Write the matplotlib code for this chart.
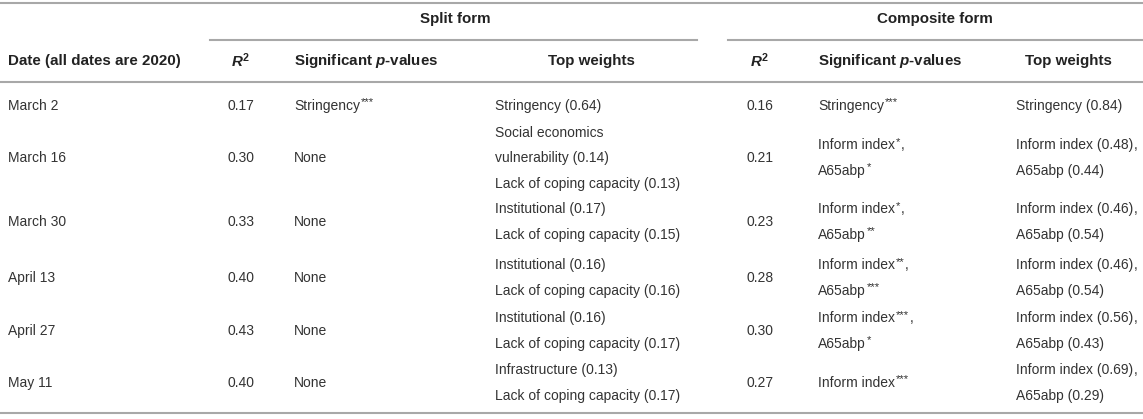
import matplotlib
matplotlib.use("Agg")
import matplotlib.pyplot as plt

plt.rcParams['font.family'] = ['Liberation Sans', 'DejaVu Sans']
plt.rcParams['mathtext.fontset'] = 'custom'
plt.rcParams['mathtext.rm'] = 'Liberation Sans:bold'
plt.rcParams['mathtext.it'] = 'Liberation Sans:bold:italic'
plt.rcParams['mathtext.sf'] = 'Liberation Sans'

# ---- data ----
group_headers = ["Split form", "Composite form"]
col_headers = ["Date (all dates are 2020)", "$R^{2}$", "Significant $p$-values", "Top weights",
               "$R^{2}$", "Significant $p$-values", "Top weights"]
dates = ["March 2", "March 16", "March 30", "April 13", "April 27", "May 11"]
r2_split = ["0.17", "0.30", "0.33", "0.40", "0.43", "0.40"]
pvals_split = ["Stringency***", "None", "None", "None", "None", "None"]
weights_split = [
    ["Stringency (0.64)"],
    ["Social economics", "vulnerability (0.14)", "Lack of coping capacity (0.13)"],
    ["Institutional (0.17)", "Lack of coping capacity (0.15)"],
    ["Institutional (0.16)", "Lack of coping capacity (0.16)"],
    ["Institutional (0.16)", "Lack of coping capacity (0.17)"],
    ["Infrastructure (0.13)", "Lack of coping capacity (0.17)"],
]
r2_comp = ["0.16", "0.21", "0.23", "0.28", "0.30", "0.27"]
pvals_comp = [
    ["Stringency***"],
    ["Inform index*,", "A65abp*"],
    ["Inform index*,", "A65abp**"],
    ["Inform index**,", "A65abp***"],
    ["Inform index***,", "A65abp*"],
    ["Inform index***"],
]
weights_comp = [
    ["Stringency (0.84)"],
    ["Inform index (0.48),", "A65abp (0.44)"],
    ["Inform index (0.46),", "A65abp (0.54)"],
    ["Inform index (0.46),", "A65abp (0.54)"],
    ["Inform index (0.56),", "A65abp (0.43)"],
    ["Inform index (0.69),", "A65abp (0.29)"],
]

# ---- layout ----
W, H = 1143, 419
fig = plt.figure(figsize=(W / 100, H / 100), dpi=100)
ax = fig.add_axes([0, 0, 1, 1])
ax.set_xlim(0, W)
ax.set_ylim(H, 0)
ax.axis('off')

TXT = '#333333'
HDR = '#222222'
LINE = '#a8a8a8'
FS = 10.0
HFS = 10.9
BASE = 5.0  # baseline offset below visual centre (px)

def put(x, yc, s, ha='left'):
    tail = ',' if s.endswith(',') else ''
    core = s[:-1] if tail else s
    stripped = core.rstrip('*')
    stars = len(core) - len(stripped)
    yb = yc + BASE
    t = ax.text(x, yb, stripped, ha=ha, va='baseline', fontsize=FS, color=TXT)
    last = t
    if stars:
        last = ax.annotate('*' * stars, xy=(1, yb), xycoords=(t, 'data'),
                           xytext=(0.8, 3.2), textcoords='offset points',
                           ha='left', va='baseline', fontsize=8.2, color=TXT)
    if tail:
        ax.annotate(tail, xy=(1, yb), xycoords=(last, 'data'),
                    xytext=(0.2, 0), textcoords='offset points',
                    ha='left', va='baseline', fontsize=FS, color=TXT)

# horizontal rules
ax.plot([0, W], [3, 3], color=LINE, lw=1.5)
ax.plot([210, 697], [40, 40], color=LINE, lw=1.5)
ax.plot([728, W], [40, 40], color=LINE, lw=1.5)
ax.plot([0, W], [82, 82], color=LINE, lw=1.5)
ax.plot([0, W], [413, 413], color=LINE, lw=1.5)

# group headers
ax.text(455, 19, group_headers[0], ha='center', va='center', fontsize=HFS, fontweight='bold', color=HDR)
ax.text(935, 19, group_headers[1], ha='center', va='center', fontsize=HFS, fontweight='bold', color=HDR)

# column headers: (x, ha)
col_pos = [(8, 'left'), (241, 'center'), (294, 'left'), (591, 'center'),
           (760, 'center'), (818, 'left'), (1068, 'center')]
for (x, ha), h in zip(col_pos, col_headers):
    ax.text(x, 61, h, ha=ha, va='center', fontsize=HFS, fontweight='bold', color=HDR)

# body rows
row_centers = [105, 157, 221, 277, 330, 382]
LH = 25.5

def block(x, yc, lines, ha='left'):
    n = len(lines)
    for i, s in enumerate(lines):
        put(x, yc + (i - (n - 1) / 2) * LH, s, ha=ha)

for i, yc in enumerate(row_centers):
    block(8, yc, [dates[i]])
    block(241, yc, [r2_split[i]], ha='center')
    block(294, yc, [pvals_split[i]])
    block(495, yc, weights_split[i])
    block(760, yc, [r2_comp[i]], ha='center')
    block(818, yc, pvals_comp[i])
    block(1016, yc, weights_comp[i])

fig.savefig('out.png', dpi=100, facecolor='white')
